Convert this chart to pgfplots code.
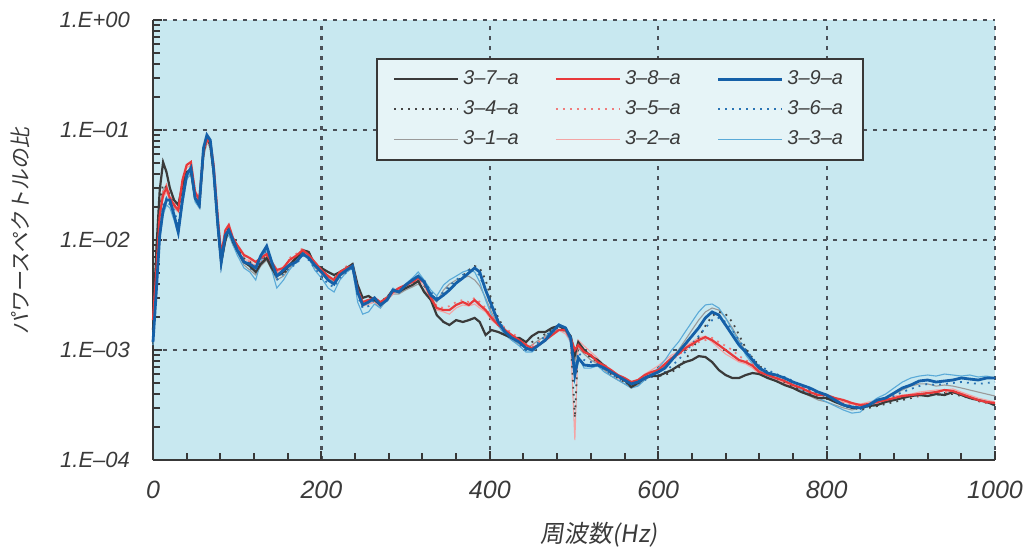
\documentclass[border=0pt]{standalone}
\usepackage{fontspec}
\setmainfont{Liberation Sans}
\newfontfamily\jp[FakeSlant=0.15]{Noto Sans CJK JP}
\usepackage{pgfplots}
\usepackage{pgfplotstable}
\pgfplotsset{compat=1.18}
\definecolor{bgblue}{HTML}{C8E8F0}
\definecolor{legfill}{HTML}{E6F4F7}
\definecolor{axisgray}{HTML}{383838}
\definecolor{gridgray}{HTML}{4A5058}
\definecolor{labgray}{HTML}{3A3A3A}
\definecolor{c37}{HTML}{3A3A3A}
\definecolor{c38}{HTML}{E8393B}
\definecolor{c39}{HTML}{1560A8}
\definecolor{c34}{HTML}{454545}
\definecolor{c35}{HTML}{F07C7C}
\definecolor{c36}{HTML}{2A74B4}
\definecolor{c31}{HTML}{9A9A9A}
\definecolor{c32}{HTML}{F4A4A4}
\definecolor{c33}{HTML}{5AAAD8}
\tikzset{
  s37/.style={c37, line width=1.1pt},
  s38/.style={c38, line width=1.1pt},
  s39/.style={c39, line width=1.4pt},
  s34/.style={c34, line width=0.9pt, dash pattern=on 0.9pt off 2.6pt},
  s35/.style={c35, line width=0.9pt, dash pattern=on 0.9pt off 2.6pt},
  s36/.style={c36, line width=0.9pt, dash pattern=on 0.9pt off 2.6pt},
  s31/.style={c31, line width=0.55pt},
  s32/.style={c32, line width=0.55pt},
  s33/.style={c33, line width=0.55pt},
}
\pgfplotstableread{
x a37 a34 a31 b38 b35 b32 c39 c36 c33
0 1.52e-3 1.37e-3 1.69e-3 1.87e-3 1.69e-3 1.96e-3 1.18e-3 1.29e-3 1.11e-3
4 8.1e-3 6.6e-3 7.3e-3 5.3e-3 5.9e-3 5.6e-3 3.5e-3 3.9e-3 3.2e-3
8 2.85e-2 2.31e-2 2.08e-2 1.69e-2 1.87e-2 1.80e-2 1.11e-2 1.23e-2 1.0e-2
12 5.1e-2 3.2e-2 2.85e-2 2.57e-2 2.73e-2 2.41e-2 1.87e-2 2.08e-2 1.69e-2
16 4.15e-2 2.98e-2 3.16e-2 2.98e-2 3.16e-2 2.73e-2 2.31e-2 2.41e-2 2.08e-2
20 2.98e-2 2.57e-2 2.41e-2 2.41e-2 2.57e-2 2.31e-2 2.31e-2 2.08e-2 1.96e-2
25 2.31e-2 2.08e-2 1.96e-2 2.08e-2 2.17e-2 2.0e-2 1.69e-2 1.87e-2 1.52e-2
30 2.08e-2 1.87e-2 1.80e-2 1.87e-2 1.96e-2 1.80e-2 1.18e-2 1.37e-2 1.11e-2
35 3.16e-2 2.98e-2 2.85e-2 3.51e-2 3.16e-2 3.30e-2 2.31e-2 2.57e-2 2.08e-2
40 4.15e-2 3.90e-2 3.66e-2 4.81e-2 4.33e-2 4.52e-2 3.90e-2 4.15e-2 3.51e-2
45 4.33e-2 4.15e-2 3.90e-2 5.12e-2 4.7e-2 4.81e-2 4.52e-2 4.33e-2 4.15e-2
50 2.41e-2 2.57e-2 2.31e-2 2.73e-2 2.57e-2 2.85e-2 2.41e-2 2.57e-2 2.22e-2
55 2.08e-2 2.22e-2 1.96e-2 2.31e-2 2.17e-2 2.41e-2 2.08e-2 2.31e-2 1.96e-2
60 6.31e-2 5.93e-2 5.57e-2 6.58e-2 6.31e-2 5.93e-2 6.86e-2 6.58e-2 6.31e-2
64 8.46e-2 8.11e-2 7.78e-2 8.11e-2 8.46e-2 7.78e-2 9.0e-2 8.64e-2 8.46e-2
68 7.31e-2 7.62e-2 6.86e-2 7.78e-2 7.31e-2 7.2e-2 8.11e-2 7.78e-2 7.47e-2
72 4.15e-2 4.33e-2 3.90e-2 4.81e-2 4.52e-2 4.33e-2 4.33e-2 4.52e-2 3.90e-2
77 1.37e-2 1.46e-2 1.29e-2 1.59e-2 1.52e-2 1.46e-2 1.37e-2 1.46e-2 1.23e-2
81 6.31e-3 6.86e-3 5.93e-3 7.31e-3 6.86e-3 7.2e-3 6.31e-3 6.86e-3 5.57e-3
86 1.0e-2 1.04e-2 9.59e-3 1.23e-2 1.18e-2 1.11e-2 1.11e-2 1.18e-2 1.0e-2
90 1.29e-2 1.23e-2 1.18e-2 1.37e-2 1.34e-2 1.29e-2 1.23e-2 1.29e-2 1.11e-2
95 9.59e-3 1.0e-2 9.0e-3 1.04e-2 1.0e-2 9.59e-3 1.0e-2 1.04e-2 9.0e-3
100 8.11e-3 8.46e-3 7.78e-3 9.0e-3 8.64e-3 8.11e-3 8.11e-3 8.46e-3 7.31e-3
108 6.31e-3 6.86e-3 5.93e-3 7.31e-3 6.86e-3 6.58e-3 6.31e-3 6.58e-3 5.57e-3
115 5.8e-3 6.31e-3 5.34e-3 6.86e-3 6.31e-3 6.58e-3 6.05e-3 5.57e-3 5.12e-3
122 5.12e-3 5.57e-3 4.81e-3 6.31e-3 5.8e-3 5.57e-3 5.57e-3 5.12e-3 4.33e-3
128 6.05e-3 6.31e-3 5.8e-3 6.86e-3 6.58e-3 6.31e-3 7.2e-3 6.58e-3 6.31e-3
135 6.86e-3 7.2e-3 6.58e-3 7.47e-3 7.78e-3 7.2e-3 8.8e-3 8.11e-3 8.46e-3
141 5.57e-3 5.8e-3 5.34e-3 6.31e-3 5.93e-3 6.05e-3 6.31e-3 5.8e-3 5.34e-3
147 4.7e-3 4.92e-3 4.33e-3 5.34e-3 5.12e-3 4.92e-3 4.7e-3 4.33e-3 3.66e-3
155 5.12e-3 4.81e-3 4.7e-3 5.57e-3 5.34e-3 5.8e-3 5.34e-3 4.92e-3 4.33e-3
162 5.93e-3 5.8e-3 5.57e-3 6.58e-3 6.86e-3 6.31e-3 5.93e-3 5.57e-3 5.34e-3
170 6.86e-3 6.58e-3 6.31e-3 7.2e-3 7.47e-3 6.86e-3 6.31e-3 6.05e-3 6.31e-3
178 8.11e-3 7.78e-3 7.47e-3 8.11e-3 8.46e-3 7.78e-3 7.47e-3 7.2e-3 7.78e-3
185 7.78e-3 7.47e-3 7.2e-3 7.31e-3 7.78e-3 7.2e-3 6.86e-3 6.58e-3 6.86e-3
192 5.93e-3 5.8e-3 5.57e-3 6.31e-3 6.05e-3 5.8e-3 5.93e-3 5.57e-3 5.34e-3
200 5.57e-3 5.34e-3 5.12e-3 5.34e-3 5.12e-3 4.92e-3 5.12e-3 4.7e-3 4.52e-3
208 5.12e-3 4.7e-3 4.52e-3 4.7e-3 4.52e-3 4.33e-3 4.33e-3 3.98e-3 3.66e-3
215 4.81e-3 4.52e-3 4.15e-3 4.33e-3 4.06e-3 3.98e-3 3.98e-3 3.74e-3 3.37e-3
222 5.12e-3 4.92e-3 4.7e-3 5.12e-3 4.92e-3 4.7e-3 4.81e-3 4.52e-3 4.33e-3
230 5.57e-3 5.34e-3 5.12e-3 5.57e-3 5.8e-3 5.34e-3 5.34e-3 5.12e-3 5.12e-3
237 6.05e-3 5.8e-3 5.57e-3 5.8e-3 6.05e-3 5.57e-3 5.8e-3 5.57e-3 5.57e-3
243 3.90e-3 3.66e-3 3.37e-3 3.51e-3 3.37e-3 3.23e-3 3.37e-3 3.10e-3 2.73e-3
249 2.98e-3 2.73e-3 2.51e-3 2.73e-3 2.57e-3 2.51e-3 2.57e-3 2.41e-3 2.12e-3
256 3.10e-3 2.85e-3 2.62e-3 2.85e-3 2.73e-3 2.62e-3 2.73e-3 2.51e-3 2.22e-3
263 2.85e-3 2.98e-3 2.73e-3 2.98e-3 2.85e-3 2.73e-3 2.98e-3 2.85e-3 2.62e-3
270 2.57e-3 2.67e-3 2.41e-3 2.73e-3 2.62e-3 2.51e-3 2.57e-3 2.62e-3 2.41e-3
278 2.98e-3 3.10e-3 2.85e-3 2.98e-3 3.10e-3 2.85e-3 2.85e-3 2.98e-3 2.98e-3
285 3.51e-3 3.37e-3 3.23e-3 3.37e-3 3.51e-3 3.23e-3 3.51e-3 3.37e-3 3.66e-3
292 3.37e-3 3.51e-3 3.23e-3 3.66e-3 3.51e-3 3.51e-3 3.37e-3 3.51e-3 3.37e-3
300 3.66e-3 3.66e-3 3.51e-3 3.90e-3 3.82e-3 3.66e-3 3.90e-3 3.82e-3 3.98e-3
308 3.90e-3 3.98e-3 3.74e-3 4.15e-3 3.98e-3 3.90e-3 4.33e-3 4.15e-3 4.52e-3
315 4.24e-3 4.33e-3 3.98e-3 4.52e-3 4.33e-3 4.33e-3 4.7e-3 4.52e-3 5.12e-3
322 3.37e-3 3.82e-3 3.51e-3 4.15e-3 3.98e-3 3.82e-3 4.15e-3 4.33e-3 4.33e-3
330 2.85e-3 3.23e-3 2.98e-3 2.98e-3 3.10e-3 2.85e-3 3.16e-3 3.37e-3 3.51e-3
337 2.08e-3 2.85e-3 2.73e-3 2.41e-3 2.51e-3 2.31e-3 2.85e-3 2.98e-3 3.10e-3
345 1.80e-3 3.23e-3 3.51e-3 2.31e-3 2.41e-3 2.22e-3 3.16e-3 3.37e-3 3.90e-3
352 1.69e-3 3.66e-3 3.98e-3 2.31e-3 2.51e-3 2.12e-3 3.51e-3 3.82e-3 4.33e-3
360 1.87e-3 4.15e-3 4.33e-3 2.57e-3 2.73e-3 2.41e-3 4.06e-3 4.33e-3 4.7e-3
368 1.80e-3 4.7e-3 4.52e-3 2.73e-3 2.85e-3 2.57e-3 4.52e-3 4.81e-3 5.12e-3
375 1.87e-3 5.34e-3 4.7e-3 2.57e-3 2.73e-3 2.51e-3 5.02e-3 5.34e-3 5.34e-3
382 1.96e-3 5.8e-3 4.33e-3 2.85e-3 2.98e-3 2.62e-3 5.57e-3 5.57e-3 5.12e-3
388 1.80e-3 5.57e-3 3.82e-3 2.57e-3 2.73e-3 2.41e-3 5.12e-3 4.7e-3 4.15e-3
395 1.37e-3 4.33e-3 2.98e-3 2.31e-3 2.41e-3 2.22e-3 3.51e-3 3.51e-3 2.85e-3
402 1.52e-3 2.85e-3 2.22e-3 1.96e-3 2.04e-3 1.87e-3 2.57e-3 2.41e-3 2.08e-3
410 1.46e-3 1.96e-3 1.69e-3 1.69e-3 1.80e-3 1.66e-3 1.80e-3 1.87e-3 1.66e-3
418 1.37e-3 1.52e-3 1.40e-3 1.52e-3 1.59e-3 1.46e-3 1.46e-3 1.52e-3 1.37e-3
426 1.29e-3 1.34e-3 1.23e-3 1.37e-3 1.43e-3 1.34e-3 1.29e-3 1.34e-3 1.23e-3
435 1.29e-3 1.23e-3 1.13e-3 1.23e-3 1.29e-3 1.18e-3 1.18e-3 1.13e-3 1.09e-3
443 1.18e-3 1.11e-3 1.04e-3 1.11e-3 1.16e-3 1.065e-3 1.04e-3 1.0e-3 9.59e-4
450 1.34e-3 1.18e-3 1.11e-3 1.04e-3 1.11e-3 1.0e-3 1.0e-3 1.04e-3 9.59e-4
458 1.46e-3 1.29e-3 1.23e-3 1.11e-3 1.18e-3 1.09e-3 1.11e-3 1.18e-3 1.09e-3
466 1.46e-3 1.40e-3 1.34e-3 1.23e-3 1.29e-3 1.23e-3 1.23e-3 1.34e-3 1.29e-3
474 1.59e-3 1.52e-3 1.46e-3 1.37e-3 1.46e-3 1.40e-3 1.46e-3 1.52e-3 1.52e-3
482 1.66e-3 1.59e-3 1.52e-3 1.52e-3 1.59e-3 1.52e-3 1.69e-3 1.66e-3 1.73e-3
490 1.52e-3 1.59e-3 1.46e-3 1.52e-3 1.46e-3 1.40e-3 1.59e-3 1.52e-3 1.52e-3
496 1.34e-3 1.29e-3 1.23e-3 1.29e-3 1.23e-3 1.18e-3 1.29e-3 1.23e-3 1.18e-3
501 9.0e-4 2.41e-4 7.78e-4 1.0e-3 9.0e-4 1.52e-4 5.93e-4 6.58e-4 6.86e-4
505 1.18e-3 1.11e-3 1.04e-3 1.11e-3 1.04e-3 1.23e-3 8.46e-4 9.59e-4 8.8e-4
512 1.0e-3 9.59e-4 9.2e-4 9.59e-4 1.0e-3 1.09e-3 7.31e-4 8.11e-4 6.86e-4
520 8.8e-4 8.46e-4 8.11e-4 9.0e-4 8.64e-4 9.59e-4 7.2e-4 7.78e-4 6.86e-4
528 8.11e-4 7.78e-4 7.47e-4 7.78e-4 8.11e-4 8.46e-4 7.31e-4 7.47e-4 7.2e-4
536 7.2e-4 6.86e-4 6.58e-4 7.2e-4 7.47e-4 6.86e-4 6.86e-4 6.58e-4 6.31e-4
544 6.31e-4 6.05e-4 5.8e-4 6.58e-4 6.31e-4 6.18e-4 6.31e-4 6.05e-4 5.8e-4
552 5.8e-4 5.57e-4 5.34e-4 5.93e-4 5.8e-4 5.57e-4 5.8e-4 5.57e-4 5.34e-4
560 5.34e-4 5.12e-4 4.92e-4 5.57e-4 5.34e-4 5.23e-4 5.34e-4 5.12e-4 4.92e-4
568 4.61e-4 4.81e-4 4.52e-4 5.12e-4 4.92e-4 5.02e-4 4.92e-4 4.7e-4 4.52e-4
576 5.02e-4 5.12e-4 4.81e-4 5.34e-4 5.23e-4 5.12e-4 5.12e-4 4.92e-4 4.7e-4
584 5.57e-4 5.8e-4 5.34e-4 5.93e-4 5.69e-4 6.05e-4 5.57e-4 5.34e-4 5.34e-4
592 5.8e-4 6.05e-4 5.8e-4 6.31e-4 6.05e-4 6.58e-4 5.93e-4 5.69e-4 6.05e-4
600 5.8e-4 5.8e-4 6.31e-4 6.58e-4 6.31e-4 7.2e-4 6.31e-4 5.93e-4 6.86e-4
608 6.18e-4 5.93e-4 7.2e-4 7.47e-4 7.2e-4 8.11e-4 6.86e-4 6.31e-4 8.11e-4
616 6.58e-4 6.31e-4 8.46e-4 8.46e-4 8.11e-4 9.0e-4 8.11e-4 7.2e-4 1.0e-3
624 7.2e-4 6.86e-4 1.0e-3 9.2e-4 9.0e-4 9.59e-4 9.59e-4 8.11e-4 1.18e-3
632 7.78e-4 8.11e-4 1.23e-3 1.04e-3 1.0e-3 1.09e-3 1.13e-3 9.59e-4 1.46e-3
640 8.11e-4 1.0e-3 1.52e-3 1.13e-3 1.09e-3 1.18e-3 1.34e-3 1.13e-3 1.80e-3
648 8.8e-4 1.29e-3 1.87e-3 1.23e-3 1.18e-3 1.29e-3 1.59e-3 1.34e-3 2.22e-3
656 8.64e-4 1.66e-3 2.22e-3 1.31e-3 1.23e-3 1.34e-3 1.96e-3 1.59e-3 2.57e-3
664 7.78e-4 2.04e-3 2.41e-3 1.23e-3 1.29e-3 1.18e-3 2.22e-3 1.87e-3 2.62e-3
672 6.58e-4 2.22e-3 2.31e-3 1.11e-3 1.18e-3 1.04e-3 2.08e-3 1.96e-3 2.41e-3
680 5.93e-4 2.12e-3 1.96e-3 1.0e-3 1.09e-3 9.2e-4 1.69e-3 1.80e-3 1.96e-3
688 5.57e-4 1.80e-3 1.59e-3 9.0e-4 1.0e-3 8.46e-4 1.37e-3 1.52e-3 1.52e-3
696 5.57e-4 1.37e-3 1.23e-3 8.11e-4 8.8e-4 7.78e-4 1.11e-3 1.23e-3 1.18e-3
704 5.93e-4 1.04e-3 9.59e-4 7.78e-4 8.11e-4 7.47e-4 9.59e-4 1.0e-3 9.0e-4
712 6.18e-4 8.46e-4 7.78e-4 7.2e-4 7.47e-4 6.86e-4 8.11e-4 8.46e-4 7.47e-4
720 6.05e-4 7.2e-4 6.58e-4 6.31e-4 6.58e-4 6.05e-4 6.86e-4 7.2e-4 6.31e-4
730 5.57e-4 6.31e-4 5.8e-4 5.93e-4 6.18e-4 5.69e-4 6.18e-4 6.58e-4 5.8e-4
740 5.23e-4 5.57e-4 5.34e-4 5.57e-4 5.8e-4 5.34e-4 5.93e-4 6.05e-4 5.57e-4
750 4.81e-4 5.12e-4 4.92e-4 5.23e-4 5.45e-4 5.02e-4 5.57e-4 5.69e-4 5.23e-4
760 4.52e-4 4.7e-4 4.52e-4 4.81e-4 5.02e-4 4.61e-4 5.12e-4 5.23e-4 4.81e-4
770 4.15e-4 4.33e-4 4.15e-4 4.52e-4 4.7e-4 4.33e-4 4.81e-4 4.7e-4 4.33e-4
780 3.90e-4 4.06e-4 3.82e-4 4.15e-4 4.33e-4 3.98e-4 4.52e-4 4.33e-4 3.98e-4
790 3.66e-4 3.82e-4 3.51e-4 3.90e-4 4.06e-4 3.74e-4 4.15e-4 3.98e-4 3.66e-4
800 3.66e-4 3.66e-4 3.37e-4 3.90e-4 3.82e-4 3.66e-4 3.90e-4 3.82e-4 3.37e-4
810 3.37e-4 3.51e-4 3.16e-4 3.66e-4 3.51e-4 3.51e-4 3.51e-4 3.44e-4 3.10e-4
820 3.16e-4 3.23e-4 2.98e-4 3.51e-4 3.30e-4 3.37e-4 3.16e-4 3.10e-4 2.85e-4
830 2.98e-4 3.04e-4 2.85e-4 3.30e-4 3.16e-4 3.23e-4 3.04e-4 2.98e-4 2.67e-4
840 2.98e-4 2.85e-4 2.98e-4 3.16e-4 3.10e-4 3.23e-4 2.98e-4 2.91e-4 2.73e-4
850 3.10e-4 2.98e-4 3.16e-4 3.23e-4 3.16e-4 3.37e-4 3.16e-4 3.10e-4 3.23e-4
860 3.16e-4 3.10e-4 3.37e-4 3.37e-4 3.30e-4 3.51e-4 3.51e-4 3.37e-4 3.66e-4
870 3.37e-4 3.23e-4 3.66e-4 3.51e-4 3.44e-4 3.66e-4 3.66e-4 3.51e-4 3.98e-4
880 3.51e-4 3.37e-4 3.98e-4 3.66e-4 3.58e-4 3.82e-4 4.06e-4 3.82e-4 4.52e-4
890 3.66e-4 3.51e-4 4.33e-4 3.82e-4 3.66e-4 3.90e-4 4.52e-4 4.15e-4 5.12e-4
900 3.82e-4 3.66e-4 4.7e-4 3.90e-4 3.74e-4 3.98e-4 4.81e-4 4.43e-4 5.57e-4
910 3.90e-4 3.82e-4 4.92e-4 3.98e-4 3.82e-4 4.15e-4 5.23e-4 4.7e-4 5.8e-4
920 3.82e-4 3.98e-4 4.92e-4 4.06e-4 3.98e-4 4.24e-4 5.34e-4 4.92e-4 5.93e-4
930 3.98e-4 3.90e-4 4.7e-4 4.15e-4 4.06e-4 4.33e-4 5.12e-4 4.81e-4 5.8e-4
940 3.90e-4 4.06e-4 4.81e-4 4.33e-4 4.15e-4 4.33e-4 5.23e-4 4.92e-4 6.05e-4
950 4.15e-4 3.98e-4 4.7e-4 4.24e-4 4.06e-4 4.43e-4 5.34e-4 5.02e-4 5.93e-4
960 3.90e-4 3.82e-4 4.52e-4 3.98e-4 3.90e-4 4.15e-4 5.57e-4 5.12e-4 5.8e-4
970 3.66e-4 3.66e-4 4.33e-4 3.74e-4 3.66e-4 3.90e-4 5.45e-4 5.02e-4 5.93e-4
980 3.51e-4 3.44e-4 4.15e-4 3.51e-4 3.44e-4 3.66e-4 5.34e-4 4.92e-4 5.69e-4
990 3.37e-4 3.30e-4 3.98e-4 3.37e-4 3.30e-4 3.51e-4 5.57e-4 5.02e-4 5.8e-4
1000 3.16e-4 3.16e-4 3.82e-4 3.30e-4 3.23e-4 3.37e-4 5.57e-4 5.12e-4 5.57e-4
}\spec

\begin{document}
\begin{tikzpicture}
\begin{axis}[
  scale only axis, width=421pt, height=220pt,
  xmin=0, xmax=1000, ymode=log, ymin=1e-4, ymax=1,
  axis background/.style={fill=bgblue},
  axis lines*=left,
  axis line style={draw=axisgray, line width=1.1pt},
  xtick={0,200,400,600,800,1000}, xticklabels={0,200,400,600,800,1000},
  minor x tick num=4,
  ytick={1e-4,1e-3,1e-2,1e-1,1},
  yticklabels={1.E–04,1.E–03,1.E–02,1.E–01,1.E+00},
  minor ytick={2e-4,3e-4,4e-4,5e-4,6e-4,7e-4,8e-4,9e-4,
               2e-3,3e-3,4e-3,5e-3,6e-3,7e-3,8e-3,9e-3,
               2e-2,3e-2,4e-2,5e-2,6e-2,7e-2,8e-2,9e-2,
               2e-1,3e-1,4e-1,5e-1,6e-1,7e-1,8e-1,9e-1},
  tick align=inside, major tick length=4.5pt, minor tick length=3.5pt,
  every tick/.style={draw=axisgray, line width=1pt},
  grid=major,
  minor grid style={draw=none},
  major grid style={draw=gridgray, line width=1.1pt, dash pattern=on 2pt off 3pt},
  xticklabel style={font=\fontsize{12.5}{14}\selectfont\itshape, text=labgray, yshift=-7pt},
  yticklabel style={font=\fontsize{11}{13}\selectfont\itshape, text=labgray, xshift=-8pt},
  xlabel={\jp 周波数(Hz)},
  xlabel style={at={(axis description cs:0.53,-0.17)}, anchor=center, font=\fontsize{12}{14}\selectfont, text=labgray},
  ylabel={\jp パワースペクトルの比},
  ylabel style={at={(axis description cs:-0.158,0.52)}, anchor=center, font=\fontsize{10.5}{12}\selectfont, text=labgray},
  clip=false,
  legend columns=3,
  legend cell align=left,
  legend image code/.code={\draw[#1] (0pt,0pt) -- (32pt,0pt);},
  legend style={at={(0.265,0.914)}, anchor=north west, fill=legfill, draw=axisgray,
    line width=0.9pt, font=\fontsize{10}{12}\selectfont\itshape, text=labgray,
    inner xsep=8pt, inner ysep=4pt, row sep=2.5pt,
    /tikz/every even column/.append style={column sep=16pt}},
]
\addlegendimage{s37}\addlegendentry{3–7–a}
\addlegendimage{s38}\addlegendentry{3–8–a}
\addlegendimage{s39}\addlegendentry{3–9–a}
\addlegendimage{s34}\addlegendentry{3–4–a}
\addlegendimage{s35}\addlegendentry{3–5–a}
\addlegendimage{s36}\addlegendentry{3–6–a}
\addlegendimage{s31}\addlegendentry{3–1–a}
\addlegendimage{s32}\addlegendentry{3–2–a}
\addlegendimage{s33}\addlegendentry{3–3–a}

\addplot[s31, forget plot] table[x=x, y=a31] {\spec};
\addplot[s32, forget plot] table[x=x, y=b32] {\spec};
\addplot[s33, forget plot] table[x=x, y=c33] {\spec};
\addplot[s34, forget plot] table[x=x, y=a34] {\spec};
\addplot[s35, forget plot] table[x=x, y=b35] {\spec};
\addplot[s36, forget plot] table[x=x, y=c36] {\spec};
\addplot[s37, forget plot] table[x=x, y=a37] {\spec};
\addplot[s38, forget plot] table[x=x, y=b38] {\spec};
\addplot[s39, forget plot] table[x=x, y=c39] {\spec};

\coordinate (bbsw) at (rel axis cs:-0.1817,-0.2114);
\coordinate (bbne) at (rel axis cs:1.0451,1.0455);
\end{axis}
\path (bbsw) rectangle (bbne);
\end{tikzpicture}
\end{document}
